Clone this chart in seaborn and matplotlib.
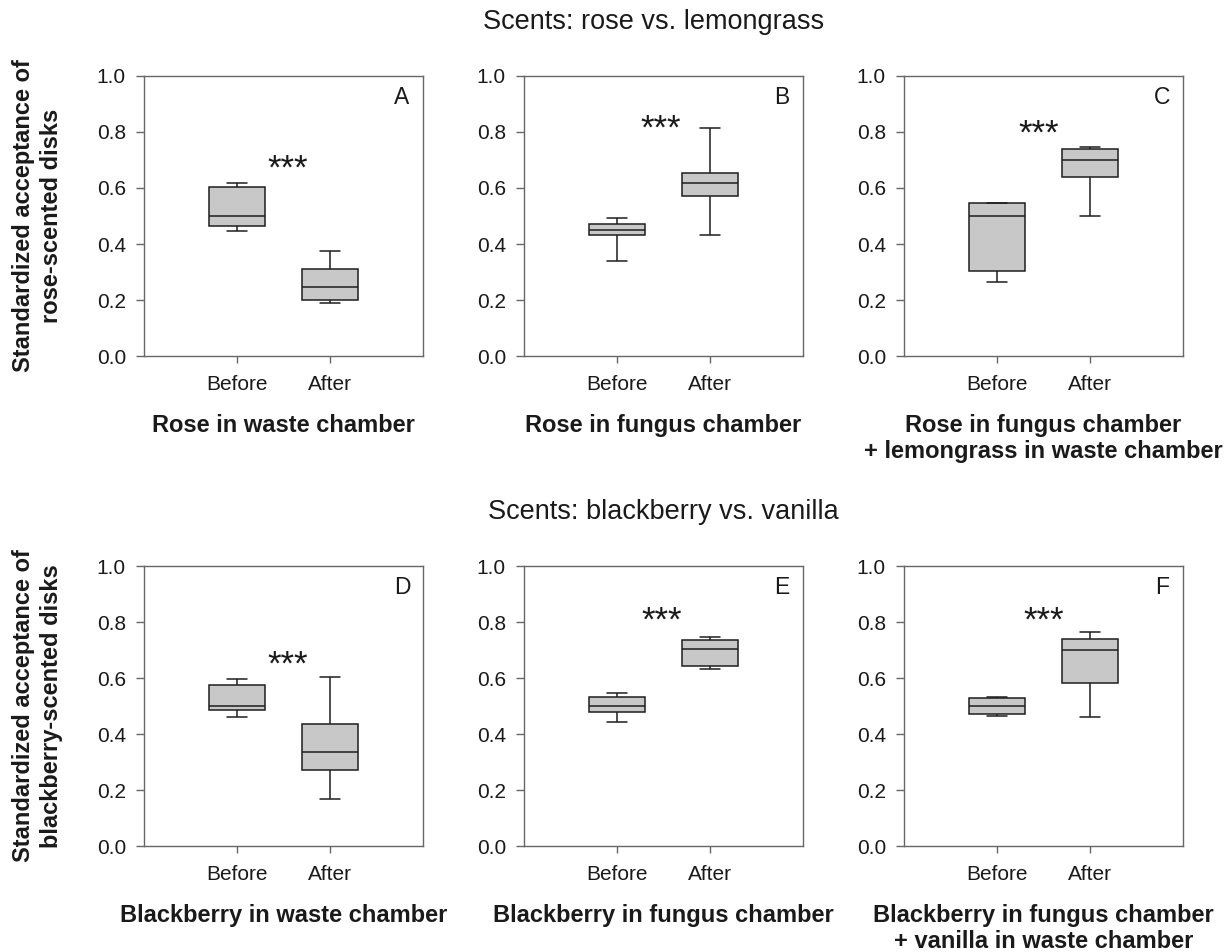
import numpy as np
import pandas as pd
import seaborn as sns
import matplotlib
matplotlib.use("Agg")
import matplotlib.pyplot as plt

# values: five-number summaries per box
phases = ["Before", "After"]
letters = ["A", "B", "C", "D", "E", "F"]
xlabels = [
    "Rose in waste chamber",
    "Rose in fungus chamber",
    "Rose in fungus chamber\n+ lemongrass in waste chamber",
    "Blackberry in waste chamber",
    "Blackberry in fungus chamber",
    "Blackberry in fungus chamber\n+ vanilla in waste chamber",
]
row_titles = ["Scents: rose vs. lemongrass", "Scents: blackberry vs. vanilla"]
row_ylabels = [
    "Standardized acceptance of\nrose-scented disks",
    "Standardized acceptance of\nblackberry-scented disks",
]
before_vals = [
    [0.448, 0.465, 0.499, 0.602, 0.619],
    [0.340, 0.433, 0.451, 0.470, 0.493],
    [0.263, 0.304, 0.499, 0.545, 0.547],
    [0.459, 0.484, 0.499, 0.574, 0.596],
    [0.443, 0.478, 0.499, 0.533, 0.548],
    [0.464, 0.472, 0.501, 0.527, 0.533],
]
after_vals = [
    [0.191, 0.199, 0.248, 0.312, 0.375],
    [0.433, 0.570, 0.619, 0.653, 0.816],
    [0.499, 0.639, 0.700, 0.739, 0.747],
    [0.168, 0.272, 0.334, 0.436, 0.602],
    [0.631, 0.642, 0.702, 0.734, 0.746],
    [0.461, 0.583, 0.700, 0.739, 0.764],
]
# where the "***" marks sit (x in category units, y = glyph bottom)
star_x = [0.55, 0.47, 0.45, 0.54, 0.48, 0.50]
star_y = [0.685, 0.825, 0.81, 0.662, 0.818, 0.818]

sns.set_style("ticks")
plt.rcParams["font.family"] = ["Liberation Sans", "DejaVu Sans"]

W, H = 1231, 952
fig = plt.figure(figsize=(W / 100, H / 100), dpi=100)

lefts = [144, 524, 904]
tops = [76, 566]
ax_w, ax_h = 279, 280
spine_col = "#666666"
txt_col = "#1a1a1a"
ticks = np.arange(0, 1.01, 0.2)

for i in range(6):
    r, c = divmod(i, 3)
    ax = fig.add_axes([lefts[c] / W, 1 - (tops[r] + ax_h) / H, ax_w / W, ax_h / H])
    df = pd.DataFrame({
        "phase": ["Before"] * 5 + ["After"] * 5,
        "value": before_vals[i] + after_vals[i],
    })
    sns.boxplot(data=df, x="phase", y="value", order=phases, whis=(0, 100),
                width=0.6, color="#c8c8c8", saturation=1, linecolor="#1e1e1e",
                linewidth=1.1, ax=ax)
    # narrower whisker caps, as in the original
    for cont in ax.containers:
        for cap in cont.caps:
            xs = np.asarray(cap.get_xdata(), dtype=float)
            mid = xs.mean()
            cap.set_xdata(mid + (xs - mid) * 0.75)
    ax.set_xlim(-1, 2)
    ax.set_ylim(0, 1)
    ax.set_yticks(ticks)
    ax.set_yticklabels([f"{v:.1f}" for v in ticks])
    for s in ax.spines.values():
        s.set_visible(True)
        s.set_color(spine_col)
        s.set_linewidth(1.0)
    ax.tick_params(axis="y", direction="out", length=6, width=1, color=spine_col,
                   labelsize=15, labelcolor=txt_col, pad=7)
    ax.tick_params(axis="x", direction="out", length=5, width=1, color=spine_col,
                   labelsize=15, labelcolor=txt_col, pad=9)
    ax.set_ylabel("")
    ax.set_xlabel(xlabels[i], fontsize=17, fontweight="bold", color=txt_col,
                  labelpad=14, linespacing=1.2)
    ax.text(0.925, 0.90, letters[i], transform=ax.transAxes, ha="center",
            va="baseline", fontsize=16.5, color=txt_col)
    ax.text(star_x[i], star_y[i] - 0.05, "***", ha="center", va="baseline",
            fontsize=25, color=txt_col)

title_x = [654, 663.5]
for r in range(2):
    fig.text(title_x[r] / W, 1 - (22 + 490 * r) / H, row_titles[r], ha="center",
             va="center", fontsize=19.5, color=txt_col)
    fig.text(37.5 / W, 1 - (tops[r] + ax_h / 2) / H, row_ylabels[r], rotation=90,
             ha="center", va="center", multialignment="center", fontsize=17,
             fontweight="bold", color=txt_col, linespacing=1.23)

fig.savefig("out.png", dpi=100)
